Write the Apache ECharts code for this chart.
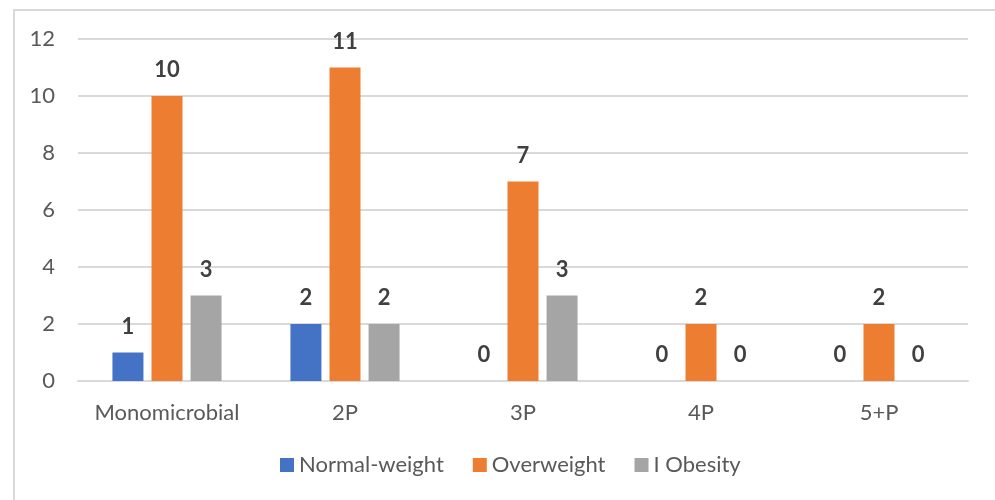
<!DOCTYPE html>
<html>
<head>
<meta charset="utf-8">
<script src="https://cdn.jsdelivr.net/npm/echarts@6/dist/echarts.min.js"></script>
<style>
  html, body { margin: 0; padding: 0; background: #fff; }
  #chart { width: 995px; height: 500px; }
</style>
</head>
<body>
<div id="chart"></div>
<script>
// Infection type by BMI group
const categories = ['Monomicrobial', '2P', '3P', '4P', '5+P'];
const normalWeight = [1, 2, 0, 0, 0];
const overweight = [10, 11, 7, 2, 2];
const obesityI = [3, 2, 3, 0, 0];
const yTicks = { min: 0, max: 12, interval: 2 };

const FONT = 'Lato, "Open Sans", sans-serif';

const labelStyle = {
  show: true,
  position: 'top',
  distance: 15,
  fontFamily: FONT,
  fontSize: 22,
  fontWeight: 'bold',
  color: '#404040'
};

function barSeries(name, data, color) {
  return {
    name: name,
    type: 'bar',
    data: data,
    barWidth: 31,
    barGap: '26%',
    itemStyle: { color: color },
    label: labelStyle
  };
}

const chart = echarts.init(document.getElementById('chart'));
chart.setOption({
  animation: false,
  graphic: [{
    type: 'rect',
    shape: { x: 14, y: 10, width: 1000, height: 600 },
    style: { fill: 'none', stroke: '#d9d9d9', lineWidth: 2 },
    silent: true
  }],
  grid: { left: 78, right: 27, top: 39, bottom: 119 },
  legend: {
    bottom: 19,
    left: 275,
    itemWidth: 14,
    itemHeight: 14,
    itemGap: 29,
    icon: 'rect',
    textStyle: { fontFamily: FONT, fontSize: 22, color: '#595959' }
  },
  xAxis: {
    type: 'category',
    data: categories,
    axisLine: { lineStyle: { color: '#d9d9d9', width: 2 } },
    axisTick: { show: false },
    axisLabel: { interval: 0, fontFamily: FONT, fontSize: 22, color: '#595959', margin: 21 }
  },
  yAxis: {
    type: 'value',
    min: yTicks.min,
    max: yTicks.max,
    interval: yTicks.interval,
    axisLine: { show: false },
    axisTick: { show: false },
    axisLabel: { fontFamily: FONT, fontSize: 22, color: '#595959', margin: 23 },
    splitLine: { lineStyle: { color: '#d9d9d9', width: 2 } }
  },
  series: [
    barSeries('Normal-weight', normalWeight, '#4472c4'),
    barSeries('Overweight', overweight, '#ed7d31'),
    barSeries('I Obesity', obesityI, '#a5a5a5')
  ]
});
</script>
</body>
</html>
